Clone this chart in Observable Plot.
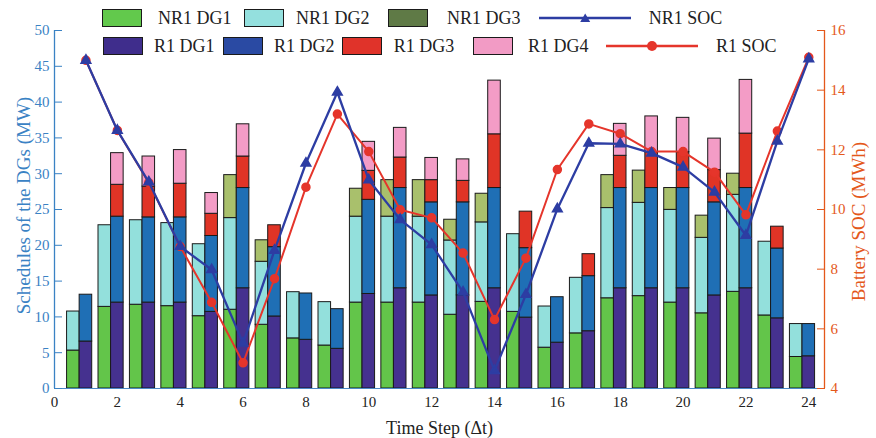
<!DOCTYPE html>
<html><head><meta charset="utf-8">
<script src="https://cdn.jsdelivr.net/npm/d3@7"></script>
<script src="https://cdn.jsdelivr.net/npm/@observablehq/plot@0.6"></script>
<style>
body{margin:0;background:#fff;}
#wrap{position:relative;width:876px;height:438px;font-family:"Liberation Serif","Times New Roman",serif;}
#wrap svg{display:block;}
.sw{position:absolute;width:40px;height:18px;box-sizing:border-box;border:1.5px solid #1a1a1a;}
.lt{position:absolute;font-size:18px;line-height:18px;color:#222;white-space:nowrap;}
.ln{position:absolute;}
</style></head><body><div id="wrap"></div>
<script>
// ---- data ----
const steps = d3.range(1, 25);
const nr1DG1 = [5.3,11.4,11.7,11.5,10.1,11.0,8.9,7.0,6.0,12.0,12.0,12.0,10.3,12.1,10.7,5.7,7.7,12.6,12.9,12.0,10.5,13.5,10.2,4.4];
const nr1DG2 = [5.45,11.4,11.8,11.6,10.05,12.8,8.8,6.45,6.06,12.0,12.0,12.0,10.37,11.1,10.85,5.75,7.76,12.6,13.03,12.95,10.54,13.55,10.3,4.6];
const nr1DG3 = [0,0,0,0,0,6.0,3.0,0,0,3.9,5.1,5.1,2.9,4.0,0,0,0,4.6,4.5,3.05,3.1,2.95,0,0];
const r1DG1 = [6.56,12.0,12.0,12.0,10.7,14.0,10.06,6.8,5.54,13.2,14.0,13.0,13.0,14.0,9.9,6.4,8.0,14.0,14.0,14.0,13.0,14.0,9.8,4.5];
const r1DG2 = [6.54,12.0,11.9,11.9,10.6,14.0,9.68,6.47,5.54,13.15,14.0,13.0,13.0,14.0,9.7,6.35,7.69,14.0,14.0,14.0,13.0,14.0,9.75,4.5];
const r1DG3 = [0,4.45,4.3,4.7,3.1,4.4,3.06,0,0,4.05,4.26,3.1,3.0,7.5,5.1,0,3.07,4.5,5.0,5.0,4.5,7.6,3.05,0];
const r1DG4 = [0,4.42,4.2,4.7,2.9,4.5,0,0,0,4.05,4.14,3.1,3.0,7.5,0,0,0,4.46,5.0,4.8,4.4,7.5,0,0];
const nr1SOC = [15.0,12.65,10.92,8.76,7.98,5.52,8.63,11.55,13.93,10.99,9.66,8.82,7.23,4.6,7.15,10.02,12.22,12.2,11.89,11.42,10.58,9.13,12.29,15.05];
const r1SOC = [15.0,12.65,10.9,8.76,6.89,4.86,7.68,10.75,13.2,11.94,9.99,9.72,8.54,6.31,8.37,11.34,12.87,12.54,11.94,11.94,11.25,9.82,12.63,15.1];
const xTicks = d3.range(0, 25, 2);
const yTicks = d3.range(0, 51, 5);
const socTicks = d3.range(4, 17, 2);

// ---- style ----
const seriesNames = ["NR1 DG1","NR1 DG2","NR1 DG3","R1 DG1","R1 DG2","R1 DG3","R1 DG4"];
const barColors  = ["#63c54a","#93e0dc","#a9c06c","#45318f","#1f6fb5","#e03426","#f39cc6"];
const legColors  = ["#62c94c","#94e0de","#5f7a46","#3f2d8c","#2a4aa3","#e0332a","#f29bc5"];
const blueLine = "#2d3da3", redLine = "#e5352b";
const leftCol = "#3a82c4", rightCol = "#e4581b";

// SOC (MWh) -> left-axis units (MW) mapping: 4..16 -> 0..50
const socLo = 4, socHi = 16, yHi = 50;
const toLeft = s => (s - socLo) * yHi / (socHi - socLo);
const fromLeft = v => v * (socHi - socLo) / yHi + socLo;

const groups = [
  {offset: -0.6, series: [[0, nr1DG1], [1, nr1DG2], [2, nr1DG3]]},
  {offset: -0.2, series: [[3, r1DG1], [4, r1DG2], [5, r1DG3], [6, r1DG4]]}
];
const barW = 0.4;
const rects = [];
for (const g of groups) {
  steps.forEach((t, i) => {
    let cum = 0;
    for (const [k, arr] of g.series) {
      const v = arr[i];
      if (v > 0) rects.push({key: seriesNames[k], x1: t + g.offset, x2: t + g.offset + barW, y1: cum, y2: cum + v});
      cum += v;
    }
  });
}
const socRows = steps.map((t, i) => ({t, nr: toLeft(nr1SOC[i]), r: toLeft(r1SOC[i])}));

const font = "Liberation Serif, Times New Roman, serif";
const chart = Plot.plot({
  width: 876, height: 438,
  marginLeft: 54, marginRight: 52, marginTop: 30, marginBottom: 50,
  style: {fontFamily: font, fontSize: "15px", background: "transparent", overflow: "visible"},
  x: {domain: [0, 24.5]},
  y: {domain: [0, 50]},
  color: {domain: seriesNames, range: barColors},
  marks: [
    Plot.rect(rects, {x1: "x1", x2: "x2", y1: "y1", y2: "y2", fill: "key", stroke: "#1a1a1a", strokeWidth: 1}),
    Plot.ruleY([0], {stroke: "#4a88c7", strokeWidth: 1.2}),
    Plot.ruleX([0], {stroke: leftCol, strokeWidth: 1.3}),
    Plot.ruleX([24.5], {stroke: rightCol, strokeWidth: 1.3}),
    Plot.line(socRows, {x: "t", y: "r", stroke: redLine, strokeWidth: 2}),
    Plot.dot(socRows, {x: "t", y: "r", r: 4, fill: redLine, stroke: redLine}),
    Plot.line(socRows, {x: "t", y: "nr", stroke: blueLine, strokeWidth: 2.3}),
    Plot.dot(socRows, {x: "t", y: "nr", symbol: "triangle", r: 3.6, fill: blueLine, stroke: blueLine}),
    Plot.axisX(xTicks, {tickSize: 0, tickPadding: 8, fontSize: 15, color: "#222", label: null}),
    Plot.axisY(yTicks, {anchor: "left", tickSize: -8, tickPadding: 13, fontSize: 15, color: leftCol, label: null}),
    Plot.axisY(socTicks.map(toLeft), {anchor: "right", tickSize: -8, tickPadding: 14, fontSize: 15, color: rightCol, label: null,
      tickFormat: d => String(Math.round(fromLeft(d)))}),
    Plot.text(["Schedules of the DGs (MW)"], {frameAnchor: "left", textAnchor: "middle", lineAnchor: "middle", dx: -31, dy: -4, rotate: -90, fontSize: 19, fill: leftCol}),
    Plot.text(["Battery SOC (MWh)"], {frameAnchor: "right", textAnchor: "middle", lineAnchor: "middle", dx: 34, dy: 12, rotate: -90, fontSize: 19, fill: rightCol}),
    Plot.text(["Time Step (\u0394t)"], {frameAnchor: "bottom", lineAnchor: "middle", dy: 40, fontSize: 18, fill: "#222"})
  ]
});
const wrap = document.getElementById("wrap");
wrap.appendChild(chart);

// ---- legend ----
const legendItems = [
  {type: "sw", k: 0, sx: 101.5, tx: 158, row: 0},
  {type: "sw", k: 1, sx: 243.7, tx: 296, row: 0},
  {type: "sw", k: 2, sx: 388, tx: 447, row: 0},
  {type: "ln", label: "NR1 SOC", sx: 538.6, ex: 631, tx: 648.7, row: 0, color: blueLine, sym: "tri"},
  {type: "sw", k: 3, sx: 102.8, tx: 154, row: 1},
  {type: "sw", k: 4, sx: 223, tx: 274, row: 1},
  {type: "sw", k: 5, sx: 342, tx: 393.7, row: 1},
  {type: "sw", k: 6, sx: 473, tx: 528, row: 1},
  {type: "ln", label: "R1 SOC", sx: 606, ex: 698, tx: 716, row: 1, color: redLine, sym: "dot"}
];
const rowY = [9, 37];
for (const it of legendItems) {
  const y = rowY[it.row];
  if (it.type === "sw") {
    const s = document.createElement("div");
    s.className = "sw";
    s.style.left = it.sx + "px"; s.style.top = y + "px"; s.style.background = legColors[it.k];
    wrap.appendChild(s);
  } else {
    const w = it.ex - it.sx;
    const s = document.createElement("div");
    s.className = "ln";
    s.style.left = it.sx + "px"; s.style.top = y + "px";
    const mid = w / 2;
    const marker = it.sym === "tri"
      ? `<path d="M${mid - 5},${13} L${mid + 5},${13} L${mid},${4.5} Z" fill="${it.color}"/>`
      : `<circle cx="${mid}" cy="9" r="5" fill="${it.color}"/>`;
    s.innerHTML = `<svg width="${w}" height="18"><line x1="0" x2="${w}" y1="9" y2="9" stroke="${it.color}" stroke-width="2.5"/>${marker}</svg>`;
    wrap.appendChild(s);
  }
  const t = document.createElement("div");
  t.className = "lt";
  t.textContent = it.type === "sw" ? seriesNames[it.k] : it.label;
  t.style.left = it.tx + "px"; t.style.top = y + "px";
  wrap.appendChild(t);
}
</script></body></html>
